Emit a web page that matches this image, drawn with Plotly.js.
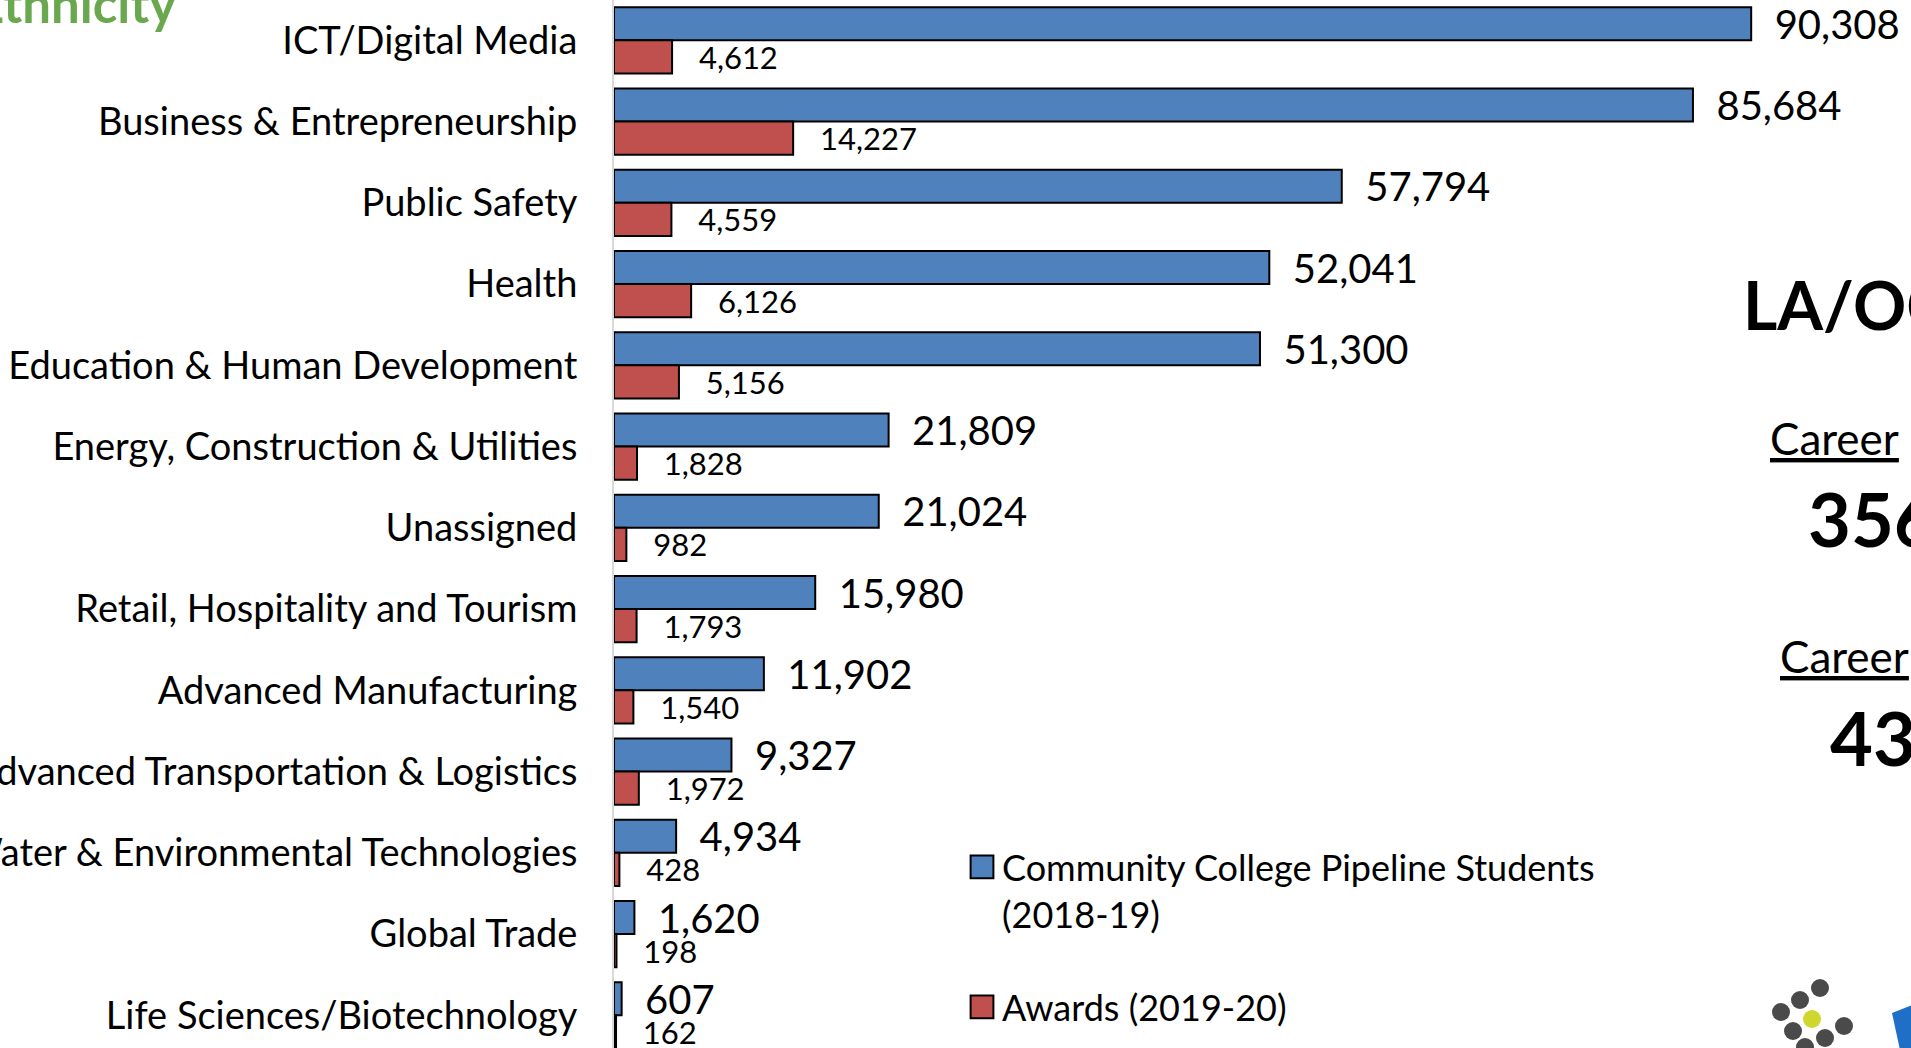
<!DOCTYPE html>
<html>
<head>
<meta charset="utf-8">
<script src="https://cdn.plot.ly/plotly-3.0.1.min.js"></script>
<style>
  html, body { margin: 0; padding: 0; background: #ffffff; overflow: hidden; }
  #chart { width: 1911px; height: 1048px; }
</style>
</head>
<body>
<div id="chart"></div>
<script>
// ---- data ----
const categories = [
  'ICT/Digital Media',
  'Business & Entrepreneurship',
  'Public Safety',
  'Health',
  'Education & Human Development',
  'Energy, Construction & Utilities',
  'Unassigned',
  'Retail, Hospitality and Tourism',
  'Advanced Manufacturing',
  'Advanced Transportation & Logistics',
  'Water & Environmental Technologies',
  'Global Trade',
  'Life Sciences/Biotechnology'
];
const pipelineStudents = [90308, 85684, 57794, 52041, 51300, 21809, 21024, 15980, 11902, 9327, 4934, 1620, 607];
const awards = [4612, 14227, 4559, 6126, 5156, 1828, 982, 1793, 1540, 1972, 428, 198, 162];
const seriesNames = ['Community College Pipeline Students<br>(2018-19)', 'Awards (2019-20)'];
const sideTexts = ['LA/OC', 'Career', '356', 'Career', '43'];
const headingText = 'Ethnicity';

// ---- layout helpers (page pixels -> paper coords) ----
const W = 1911, H = 1048, ML = 614;
const PW = W - ML;
const px = x => (x - ML) / PW;
const py = y => 1 - y / H;

const FONT = 'Lato, "Noto Sans", sans-serif';
const BLUE = '#4F81BD', RED = '#C0504D';

const traces = [
  {
    type: 'bar', orientation: 'h', name: seriesNames[0],
    y: categories, x: pipelineStudents,
    marker: { color: BLUE, line: { color: '#000000', width: 2 } },
    texttemplate: '\u00a0\u00a0%{x:,}', textposition: 'outside',
    textfont: { family: FONT, size: 40, color: '#000000' },
    constraintext: 'none', cliponaxis: false,
    legend: 'legend', hoverinfo: 'skip'
  },
  {
    type: 'bar', orientation: 'h', name: seriesNames[1],
    y: categories, x: awards,
    marker: { color: RED, line: { color: '#000000', width: 2 } },
    texttemplate: '\u00a0\u00a0\u00a0%{x:,}', textposition: 'outside',
    textfont: { family: FONT, size: 31, color: '#000000' },
    constraintext: 'none', cliponaxis: false,
    legend: 'legend2', hoverinfo: 'skip'
  }
];

const annotations = [
  { text: '<b>' + headingText + '</b>', x: px(-27), y: py(3), xanchor: 'left', yanchor: 'middle',
    font: { family: FONT, size: 51, color: '#6AA84F' } },
  { text: '<b>' + sideTexts[0] + '</b>', x: px(1741), y: py(304), xanchor: 'left', yanchor: 'middle',
    font: { family: FONT, size: 66, color: '#000000' } },
  { text: '<u>' + sideTexts[1] + '</u>', x: px(1768), y: py(438), xanchor: 'left', yanchor: 'middle',
    font: { family: FONT, size: 44, color: '#000000' } },
  { text: '<b>' + sideTexts[2] + '</b>', x: px(1806), y: py(518), xanchor: 'left', yanchor: 'middle',
    font: { family: FONT, size: 74, color: '#000000' } },
  { text: '<u>' + sideTexts[3] + '</u>', x: px(1778), y: py(656), xanchor: 'left', yanchor: 'middle',
    font: { family: FONT, size: 44, color: '#000000' } },
  { text: '<b>' + sideTexts[4] + '</b>', x: px(1828), y: py(737), xanchor: 'left', yanchor: 'middle',
    font: { family: FONT, size: 74, color: '#000000' } }
].map(a => Object.assign({ xref: 'paper', yref: 'paper', showarrow: false }, a));

// decorative logo (dots) bottom-right
const dots = [
  [1820, 988, '#4a4a4a'], [1800, 1000, '#4a4a4a'], [1781, 1012, '#4a4a4a'],
  [1812, 1019, '#cfd62e'], [1793, 1031, '#4a4a4a'], [1844, 1026, '#4a4a4a'],
  [1825, 1038, '#4a4a4a'], [1805, 1047, '#4a4a4a']
];
const shapes = dots.map(d => ({
  type: 'circle', xref: 'paper', yref: 'paper',
  x0: px(d[0] - 9), x1: px(d[0] + 9), y0: py(d[1] + 9), y1: py(d[1] - 9),
  fillcolor: d[2], line: { width: 0 }
}));
shapes.push({
  type: 'path', xref: 'paper', yref: 'paper',
  path: 'M' + px(1892) + ',' + py(1013) + ' L' + px(1915) + ',' + py(1004) +
        ' L' + px(1915) + ',' + py(1050) + ' L' + px(1900) + ',' + py(1050) + ' Z',
  fillcolor: '#1f6fc6', line: { width: 0 }
});

const legendBase = {
  xanchor: 'left', yanchor: 'top', valign: 'top',
  bgcolor: 'rgba(0,0,0,0)', borderwidth: 0,
  font: { family: FONT, size: 36, color: '#000000' },
  itemclick: false, itemdoubleclick: false
};

const layout = {
  width: W, height: H,
  margin: { l: ML, r: 0, t: 0, b: 0, pad: 0 },
  paper_bgcolor: '#ffffff', plot_bgcolor: '#ffffff',
  barmode: 'group', bargap: 0.185, bargroupgap: 0,
  showlegend: true,
  legend: Object.assign({ x: px(962), y: py(837) }, legendBase),
  legend2: Object.assign({ x: px(962), y: py(977) }, legendBase),
  xaxis: {
    range: [0, 103000], visible: false, fixedrange: true,
    showgrid: false, zeroline: false
  },
  yaxis: {
    type: 'category', categoryorder: 'array', categoryarray: categories,
    range: [12.402, -0.496], fixedrange: true,
    showline: true, linecolor: '#d9d9d9', linewidth: 2,
    ticks: 'outside', ticklen: 27, tickcolor: 'rgba(0,0,0,0)',
    showgrid: false, zeroline: false,
    tickfont: { family: FONT, size: 38, color: '#000000' }
  },
  annotations: annotations,
  shapes: shapes,
  font: { family: FONT, color: '#000000' }
};

Plotly.newPlot('chart', traces, layout, { displayModeBar: false, staticPlot: true }).then(gd => {
  gd.querySelectorAll('.legendpoints path').forEach(p => {
    const t = p.getAttribute('transform') || '';
    p.setAttribute('transform', t + ' scale(1.9)');
    p.setAttribute('vector-effect', 'non-scaling-stroke');
  });
});
</script>
</body>
</html>
